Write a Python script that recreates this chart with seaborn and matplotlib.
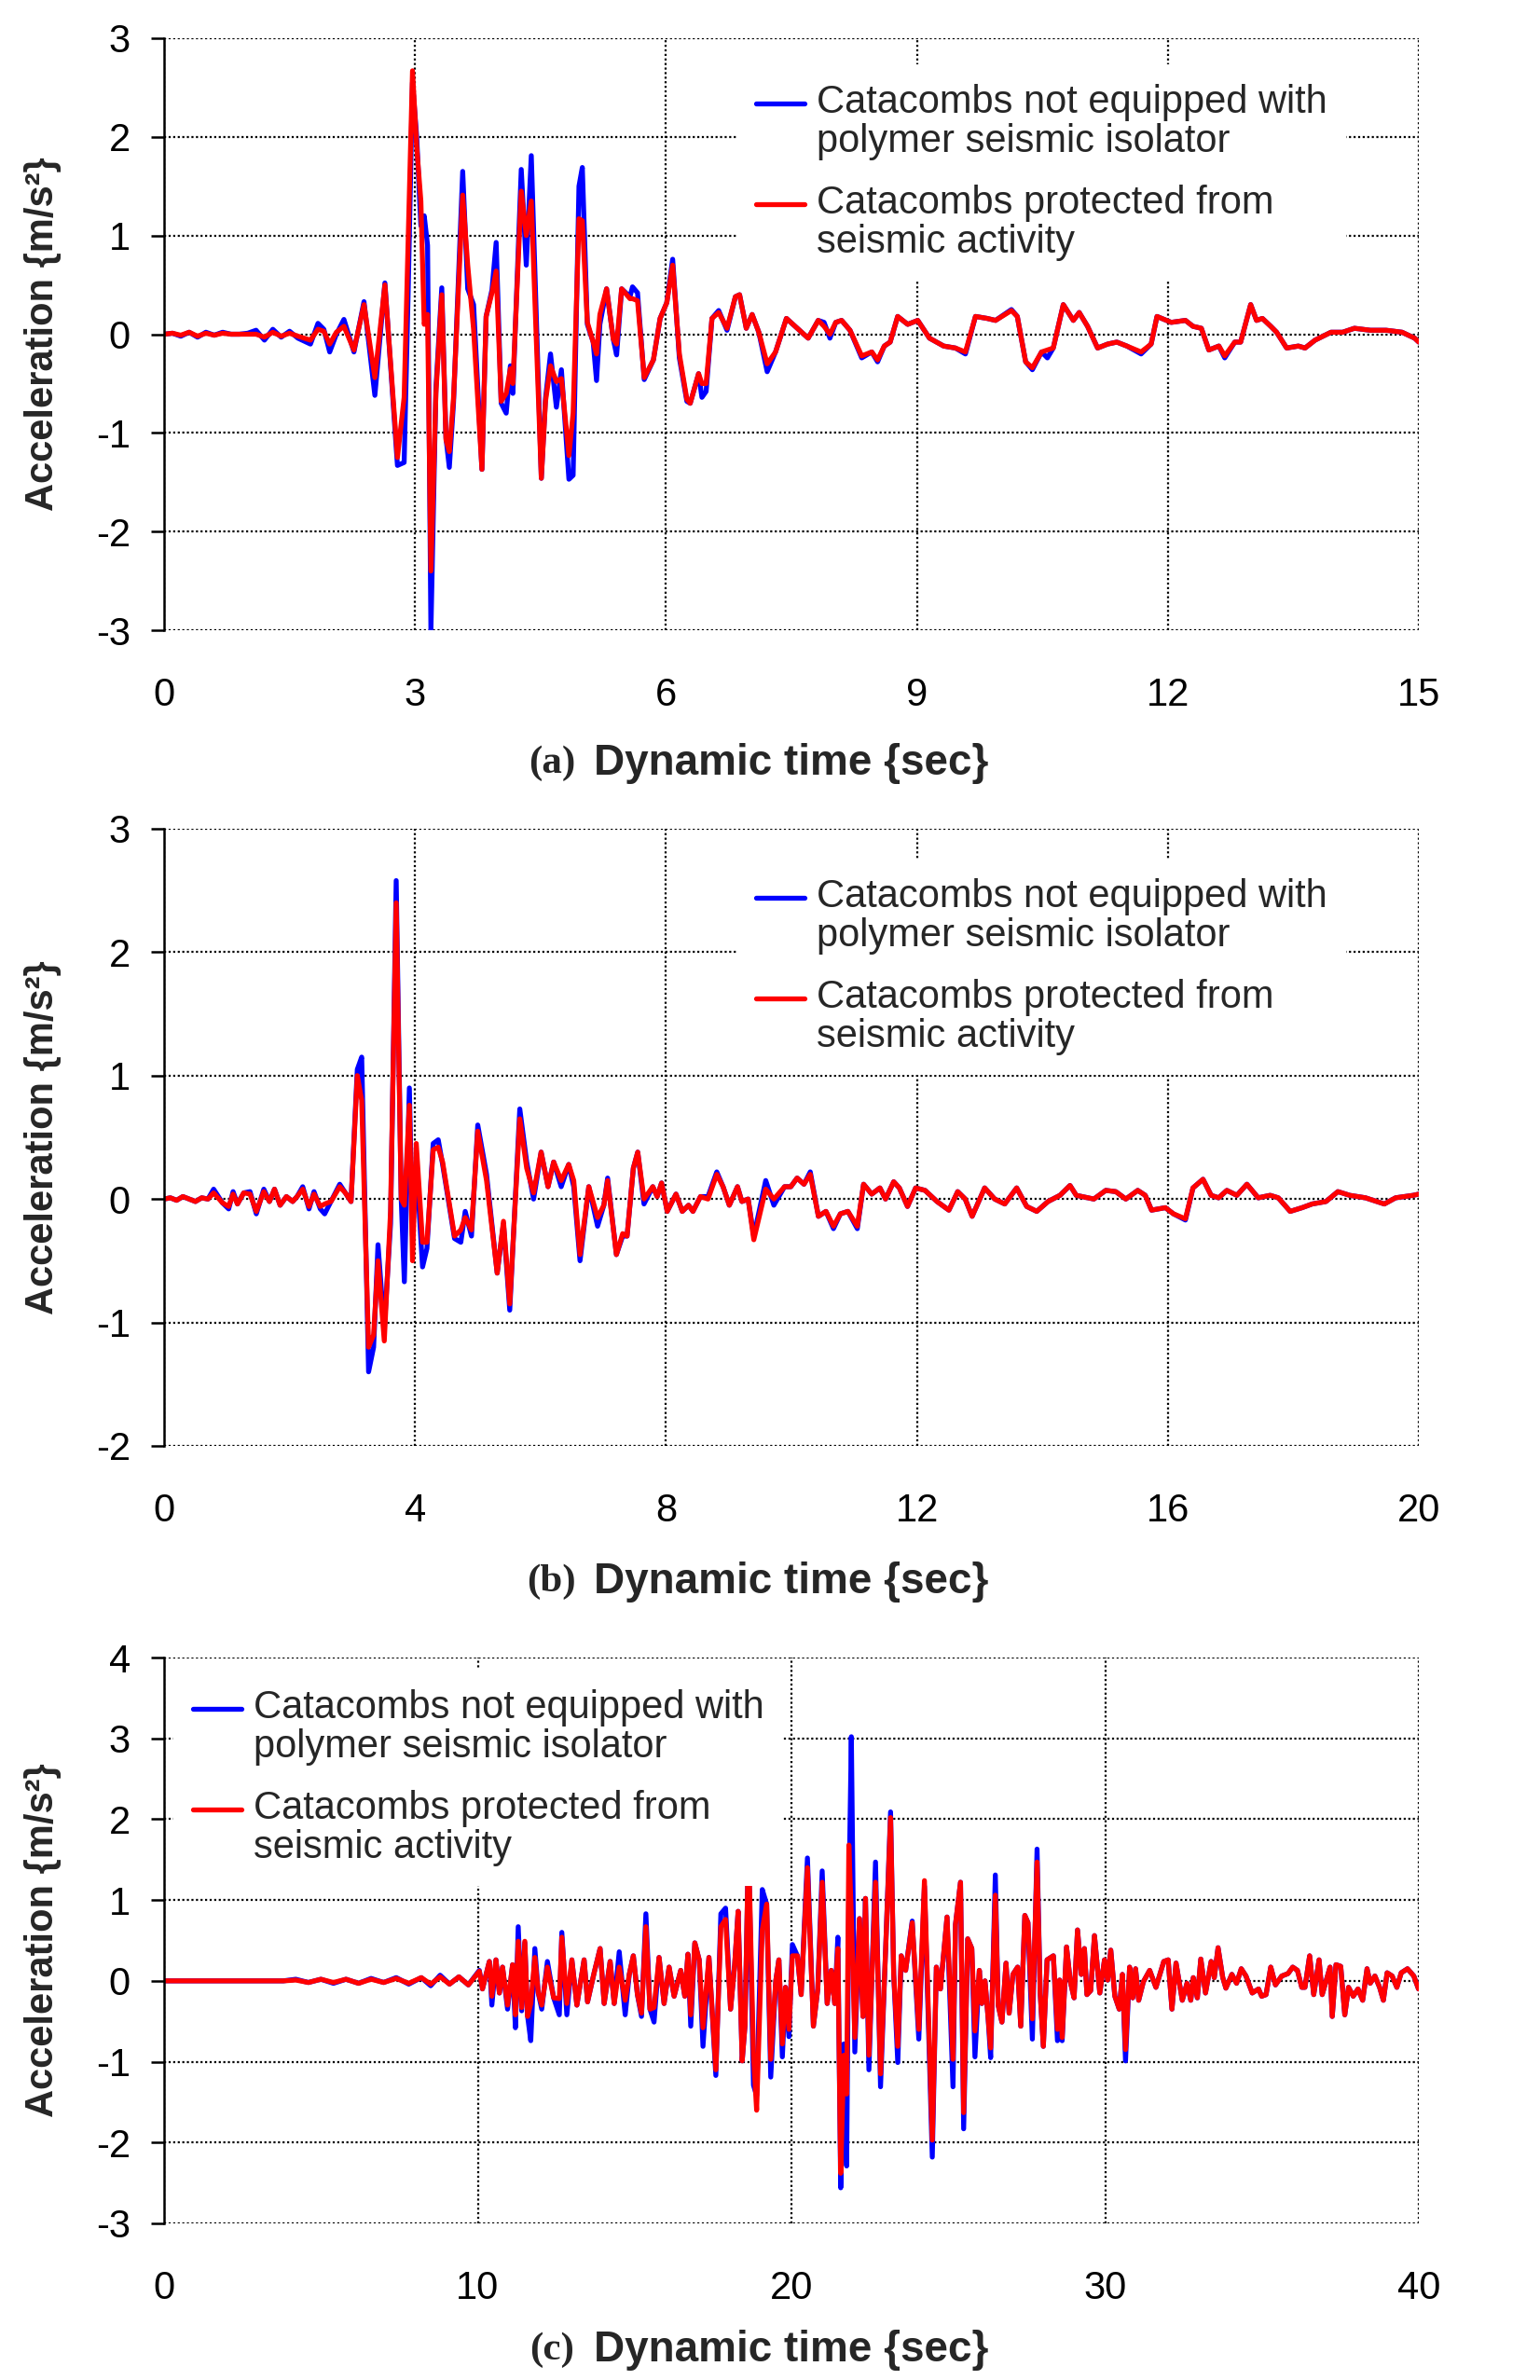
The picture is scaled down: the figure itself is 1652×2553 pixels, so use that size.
import numpy as np
import pandas as pd
import matplotlib
matplotlib.use('Agg')
import matplotlib.pyplot as plt
from matplotlib.lines import Line2D
from matplotlib.legend_handler import HandlerLine2D
import seaborn as sns

# ---------------- data ----------------
label_blue = 'Catacombs not equipped with\npolymer seismic isolator'
label_red = 'Catacombs protected from\nseismic activity'

# panel (a)
t_a = [0, 0.1, 0.2, 0.3, 0.4, 0.5, 0.6, 0.7, 0.8, 0.9, 1.0, 1.1, 1.2, 1.3, 1.4, 1.5, 1.6,
       1.75, 1.84, 1.91, 1.98, 2.06, 2.15, 2.27, 2.39, 2.52, 2.64, 2.79, 2.87, 2.92, 2.97,
       3.02, 3.07, 3.11, 3.15, 3.19, 3.25, 3.32, 3.37, 3.41, 3.46, 3.57, 3.63, 3.70, 3.80,
       3.85, 3.92, 3.97, 4.03, 4.09, 4.14, 4.17, 4.27, 4.33, 4.39, 4.51, 4.56, 4.62, 4.69,
       4.75, 4.84, 4.89, 4.96, 5.00, 5.06, 5.13, 5.17, 5.21, 5.29, 5.37, 5.41, 5.47, 5.57,
       5.60, 5.66, 5.74, 5.85, 5.93, 6.01, 6.08, 6.16, 6.25, 6.29, 6.39, 6.43, 6.48, 6.55,
       6.63, 6.73, 6.83, 6.88, 6.96, 7.03, 7.11, 7.21, 7.31, 7.44, 7.57, 7.70, 7.82, 7.89,
       7.96, 8.03, 8.10, 8.20, 8.34, 8.46, 8.53, 8.61, 8.68, 8.77, 8.89, 9.01, 9.15, 9.32,
       9.46, 9.58, 9.70, 9.84, 9.94, 10.13, 10.20, 10.30, 10.38, 10.49, 10.56, 10.63, 10.75,
       10.87, 10.94, 11.04, 11.16, 11.28, 11.39, 11.51, 11.68, 11.80, 11.87, 12.04, 12.21,
       12.30, 12.40, 12.49, 12.61, 12.68, 12.80, 12.87, 12.99, 13.06, 13.13, 13.23, 13.30,
       13.42, 13.56, 13.64, 13.76, 13.95, 14.09, 14.23, 14.42, 14.61, 14.80, 14.95, 15.0]
blue_a = [0, 0.01, -0.02, 0.02, -0.03, 0.02, -0.01, 0.02, 0, 0, 0.01, 0.04, -0.06, 0.05, -0.03, 0.03, -0.04,
          -0.10, 0.11, 0.05, -0.18, 0.0, 0.15, -0.18, 0.33, -0.62, 0.52, -1.33, -1.30, 0.50, 2.55,
          2.00, 1.10, 1.20, 0.90, -3.00, -0.55, 0.47, -1.05, -1.35, -0.70, 1.65, 0.46, 0.30, -1.37,
          0.18, 0.45, 0.93, -0.70, -0.80, -0.32, -0.60, 1.67, 0.70, 1.81, -1.46, -0.65, -0.20, -0.74,
          -0.36, -1.47, -1.43, 1.50, 1.69, 0.10, -0.08, -0.47, 0.10, 0.46, -0.05, -0.21, 0.46, 0.38,
          0.48, 0.42, -0.46, -0.26, 0.16, 0.32, 0.76, -0.24, -0.68, -0.70, -0.40, -0.64, -0.58, 0.16,
          0.24, 0.04, 0.38, 0.40, 0.06, 0.20, 0.02, -0.38, -0.18, 0.16, 0.06, -0.04, 0.14, 0.12,
          -0.04, 0.12, 0.14, 0.04, -0.24, -0.18, -0.28, -0.12, -0.08, 0.18, 0.10, 0.14, -0.04, -0.12,
          -0.14, -0.20, 0.18, 0.16, 0.14, 0.25, 0.18, -0.28, -0.36, -0.18, -0.24, -0.14, 0.30,
          0.14, 0.22, 0.08, -0.14, -0.10, -0.08, -0.12, -0.20, -0.10, 0.18, 0.12, 0.14,
          0.08, 0.06, -0.16, -0.12, -0.24, -0.08, -0.08, 0.30, 0.14, 0.16, 0.08, 0.02,
          -0.14, -0.12, -0.14, -0.06, 0.02, 0.02, 0.06, 0.04, 0.04, 0.02, -0.04, -0.08]
red_a = [0, 0.01, -0.01, 0.02, -0.02, 0.01, -0.01, 0.01, 0, 0, 0, 0, -0.03, 0.02, -0.02, 0.01, -0.02,
         -0.06, 0.05, 0.03, -0.10, 0.02, 0.08, -0.16, 0.30, -0.44, 0.50, -1.25, -0.64, 1.00, 2.67,
         1.90, 1.35, 0.10, 0.20, -2.40, -0.60, 0.40, -1.07, -1.19, -0.65, 1.41, 0.70, 0.05, -1.37,
         0.18, 0.42, 0.64, -0.68, -0.60, -0.35, -0.50, 1.45, 1.00, 1.35, -1.46, -0.68, -0.32, -0.48,
         -0.45, -1.23, -0.80, 1.17, 1.15, 0.12, -0.08, -0.20, 0.20, 0.46, -0.05, -0.10, 0.46, 0.36,
         0.36, 0.34, -0.44, -0.26, 0.16, 0.32, 0.70, -0.20, -0.66, -0.70, -0.40, -0.50, -0.50, 0.16,
         0.22, 0.06, 0.38, 0.40, 0.06, 0.20, 0.02, -0.30, -0.18, 0.16, 0.06, -0.04, 0.14, 0.08,
         0.0, 0.12, 0.14, 0.04, -0.22, -0.18, -0.26, -0.12, -0.08, 0.18, 0.10, 0.14, -0.04, -0.12,
         -0.14, -0.18, 0.18, 0.16, 0.14, 0.24, 0.18, -0.28, -0.34, -0.18, -0.16, -0.14, 0.30,
         0.14, 0.22, 0.08, -0.14, -0.10, -0.08, -0.12, -0.18, -0.10, 0.18, 0.12, 0.14,
         0.08, 0.06, -0.16, -0.12, -0.22, -0.08, -0.08, 0.30, 0.14, 0.16, 0.08, 0.02,
         -0.14, -0.12, -0.14, -0.06, 0.02, 0.02, 0.06, 0.04, 0.04, 0.02, -0.04, -0.08]

# panel (b)
t_b = [0, 0.1, 0.2, 0.3, 0.4, 0.5, 0.6, 0.7, 0.79, 0.93, 1.03, 1.10, 1.17, 1.27, 1.37, 1.47,
       1.59, 1.68, 1.76, 1.85, 1.95, 2.05, 2.12, 2.21, 2.31, 2.39, 2.49, 2.56, 2.66, 2.80, 2.89,
       2.98, 3.08, 3.15, 3.26, 3.34, 3.41, 3.51, 3.61, 3.70, 3.78, 3.83, 3.91, 3.96, 4.02, 4.12,
       4.19, 4.29, 4.37, 4.44, 4.63, 4.73, 4.80, 4.90, 5.00, 5.14, 5.31, 5.41, 5.51, 5.67, 5.78,
       5.89, 6.01, 6.12, 6.21, 6.33, 6.45, 6.53, 6.63, 6.77, 6.91, 7.01, 7.07, 7.21, 7.31, 7.38,
       7.48, 7.55, 7.65, 7.79, 7.86, 7.93, 8.02, 8.16, 8.26, 8.36, 8.43, 8.55, 8.67, 8.81, 8.91,
       9.01, 9.14, 9.21, 9.31, 9.40, 9.59, 9.72, 9.89, 9.99, 10.09, 10.20, 10.30, 10.43, 10.55,
       10.67, 10.78, 10.90, 11.05, 11.15, 11.28, 11.41, 11.50, 11.63, 11.72, 11.85, 11.98, 12.13,
       12.32, 12.51, 12.65, 12.77, 12.88, 13.08, 13.24, 13.40, 13.59, 13.75, 13.91, 14.09, 14.28,
       14.44, 14.54, 14.73, 14.82, 15.01, 15.17, 15.33, 15.52, 15.64, 15.74, 15.96, 16.09, 16.28,
       16.40, 16.56, 16.69, 16.81, 16.94, 17.10, 17.26, 17.44, 17.63, 17.76, 17.95, 18.14, 18.30,
       18.52, 18.71, 18.90, 19.15, 19.45, 19.63, 19.91, 20.0]
blue_b = [0, 0.01, -0.01, 0.02, 0, -0.02, 0.01, 0, 0.08, -0.03, -0.08, 0.06, -0.04, 0.05, 0.06, -0.12,
          0.08, -0.02, 0.08, -0.05, 0.02, -0.02, 0.02, 0.10, -0.08, 0.06, -0.08, -0.12, -0.02, 0.12, 0.05,
          -0.02, 1.05, 1.15, -1.40, -1.20, -0.37, -1.05, -0.20, 2.58, 0.0, -0.67, 0.90, -0.30, 0.30, -0.55,
          -0.40, 0.45, 0.48, 0.28, -0.32, -0.35, -0.10, -0.30, 0.60, 0.20, -0.60, -0.20, -0.90, 0.73, 0.30,
          0.0, 0.38, 0.10, 0.30, 0.10, 0.28, 0.10, -0.50, 0.10, -0.22, -0.05, 0.17, -0.45, -0.30, -0.30,
          0.25, 0.38, -0.04, 0.10, 0.02, 0.13, -0.10, 0.04, -0.10, -0.05, -0.10, 0.02, 0.02, 0.22, 0.10,
          -0.05, 0.10, -0.02, 0.0, -0.30, 0.15, -0.05, 0.10, 0.10, 0.17, 0.12, 0.22, -0.14, -0.10,
          -0.24, -0.12, -0.10, -0.24, 0.12, 0.04, 0.09, 0.0, 0.14, 0.09, -0.06, 0.09, 0.07,
          -0.02, -0.09, 0.06, 0.0, -0.14, 0.09, 0.0, -0.04, 0.09, -0.06, -0.10, -0.02, 0.03,
          0.11, 0.03, 0.01, 0.0, 0.07, 0.06, 0.0, 0.07, 0.03, -0.09, -0.07, -0.12, -0.17,
          0.09, 0.16, 0.03, 0.01, 0.07, 0.03, 0.12, 0.01, 0.03, 0.01, -0.10, -0.07, -0.04,
          -0.02, 0.06, 0.03, 0.01, -0.04, 0.01, 0.03, 0.04]
red_b = [0, 0.01, -0.01, 0.02, 0, -0.02, 0.01, 0, 0.05, -0.03, -0.06, 0.04, -0.04, 0.05, 0.04, -0.10,
         0.06, -0.02, 0.08, -0.05, 0.02, -0.02, 0.02, 0.08, -0.06, 0.04, -0.06, -0.04, -0.02, 0.10, 0.05,
         -0.02, 1.00, 0.80, -1.20, -1.10, -0.50, -1.15, -0.10, 2.40, 0.0, -0.05, 0.76, -0.50, 0.45, -0.35,
         -0.35, 0.40, 0.42, 0.30, -0.30, -0.25, -0.15, -0.25, 0.55, 0.15, -0.60, -0.18, -0.85, 0.65, 0.25,
         0.05, 0.38, 0.10, 0.30, 0.15, 0.28, 0.15, -0.45, 0.10, -0.15, -0.05, 0.15, -0.45, -0.28, -0.30,
         0.25, 0.38, 0.0, 0.10, 0.02, 0.13, -0.10, 0.04, -0.10, -0.05, -0.10, 0.02, 0.0, 0.20, 0.10,
         -0.05, 0.10, -0.02, 0.0, -0.33, 0.08, 0.0, 0.10, 0.10, 0.17, 0.12, 0.20, -0.14, -0.10,
         -0.22, -0.12, -0.10, -0.22, 0.12, 0.04, 0.09, 0.0, 0.14, 0.09, -0.06, 0.09, 0.07,
         -0.02, -0.09, 0.06, 0.0, -0.14, 0.09, 0.0, -0.04, 0.09, -0.06, -0.10, -0.02, 0.03,
         0.11, 0.03, 0.01, 0.0, 0.07, 0.06, 0.0, 0.07, 0.03, -0.09, -0.07, -0.12, -0.16,
         0.09, 0.16, 0.03, 0.01, 0.07, 0.03, 0.12, 0.01, 0.03, 0.01, -0.10, -0.07, -0.04,
         -0.02, 0.06, 0.03, 0.01, -0.04, 0.01, 0.03, 0.04]

# panel (c)
t_c = [0, 3.8, 4.2, 4.6, 5.0, 5.4, 5.8, 6.2, 6.6, 7.0, 7.4, 7.8, 8.2, 8.5, 8.8, 9.1, 9.4, 9.7,
       10.05, 10.15, 10.37, 10.45, 10.58, 10.69, 10.79, 10.95, 11.11, 11.20, 11.29, 11.40, 11.50,
       11.59, 11.69, 11.82, 11.93, 12.04, 12.22, 12.42, 12.60, 12.68, 12.84, 13.00, 13.16, 13.39,
       13.50, 13.71, 13.90, 14.03, 14.22, 14.35, 14.51, 14.70, 14.83, 14.96, 15.09, 15.22, 15.36,
       15.49, 15.62, 15.78, 15.94, 16.10, 16.26, 16.47, 16.60, 16.70, 16.79, 16.92, 17.06, 17.18,
       17.37, 17.59, 17.75, 17.90, 18.06, 18.19, 18.30, 18.43, 18.52, 18.63, 18.79, 18.89, 19.07,
       19.21, 19.34, 19.50, 19.60, 19.71, 19.81, 19.92, 20.03, 20.19, 20.31, 20.51, 20.70, 20.84,
       20.98, 21.14, 21.27, 21.38, 21.48, 21.57, 21.67, 21.76, 21.83, 21.91, 22.02, 22.17, 22.28,
       22.36, 22.47, 22.68, 22.84, 23.00, 23.16, 23.26, 23.39, 23.50, 23.64, 23.85, 24.06, 24.24,
       24.49, 24.62, 24.75, 24.96, 25.15, 25.23, 25.39, 25.49, 25.62, 25.75, 25.85, 25.99, 26.07,
       26.17, 26.27, 26.35, 26.50, 26.59, 26.71, 26.84, 26.94, 27.06, 27.21, 27.31, 27.44, 27.54,
       27.68, 27.83, 27.93, 28.03, 28.15, 28.35, 28.48, 28.55, 28.63, 28.77, 28.89, 29.01, 29.12,
       29.24, 29.34, 29.42, 29.54, 29.66, 29.83, 29.98, 30.08, 30.18, 30.31, 30.45, 30.55, 30.65,
       30.78, 30.88, 30.97, 31.07, 31.22, 31.42, 31.62, 31.87, 32.01, 32.13, 32.26, 32.46, 32.61,
       32.73, 32.81, 32.94, 33.05, 33.20, 33.38, 33.48, 33.60, 33.75, 33.85, 34.04, 34.19, 34.34,
       34.49, 34.69, 34.89, 34.99, 35.13, 35.28, 35.43, 35.63, 35.83, 35.98, 36.13, 36.27, 36.37,
       36.52, 36.65, 36.82, 36.92, 37.17, 37.24, 37.36, 37.51, 37.64, 37.76, 37.91, 38.06, 38.21,
       38.35, 38.45, 38.60, 38.75, 38.87, 38.99, 39.15, 39.30, 39.44, 39.64, 39.84, 39.99]
blue_c = [0, 0, 0.02, -0.02, 0.02, -0.03, 0.02, -0.03, 0.03, -0.02, 0.04, -0.04, 0.04, -0.06, 0.07, -0.04, 0.05, -0.05,
          0.13, -0.10, 0.24, -0.30, 0.26, -0.15, 0.17, -0.35, 0.20, -0.58, 0.67, -0.37, 0.47,
          -0.44, -0.74, 0.40, -0.15, -0.35, 0.24, -0.21, -0.42, 0.60, -0.42, 0.26, -0.30, 0.26,
          -0.26, 0.10, 0.40, -0.28, 0.24, -0.28, 0.36, -0.42, 0.08, 0.31, -0.17, -0.44, 0.83,
          -0.35, -0.51, 0.29, -0.28, 0.17, -0.19, 0.13, -0.19, 0.33, -0.56, 0.47, 0.26, -0.81,
          0.29, -1.17, 0.83, 0.90, -0.35, 0.20, 0.86, -0.99, -0.55, 1.68, -1.29, -1.42, 1.13,
          0.95, -1.19, 0.0, 0.26, -0.94, -0.08, -0.69, 0.45, 0.31, -0.17, 1.52, -0.56, -0.10,
          1.36, -0.28, 0.13, -0.28, 0.54, -2.56, -0.78, -2.29, 1.00, 3.02, -0.88, 0.77, -0.44,
          1.02, -1.10, 1.47, -1.31, 0.36, 2.09, 0.08, -1.01, 0.31, 0.13, 0.74, -0.72, 1.17,
          -2.18, 0.17, -0.10, 0.79, -1.31, 0.70, 1.22, -1.83, 0.52, 0.40, -0.94, 0.13, -0.28,
          0.0, -0.46, -0.95, 1.31, -0.30, -0.51, 0.22, -0.40, 0.08, 0.17, -0.56, 0.81, 0.72,
          -0.72, 1.63, -0.15, -0.81, 0.26, 0.31, -0.74, 0.01, -0.74, 0.42, -0.01, -0.21, 0.63,
          0.08, 0.40, -0.17, -0.12, 0.56, -0.15, 0.26, 0.01, 0.38, -0.19, -0.35, 0.08, -0.99,
          0.17, -0.21, 0.15, -0.24, -0.01, 0.13, -0.08, 0.24, 0.26, -0.35, 0.22, -0.24, -0.03,
          -0.24, 0.04, -0.21, 0.27, -0.15, 0.24, 0.04, 0.41, 0.04, -0.09, 0.08, -0.03, 0.15,
          0.06, -0.15, -0.10, -0.19, -0.17, 0.17, -0.05, 0.06, 0.09, 0.17, 0.13, -0.08, -0.08,
          0.31, -0.17, 0.26, -0.17, 0.17, -0.44, 0.20, 0.18, -0.42, -0.08, -0.19, -0.10, -0.24,
          0.15, -0.03, 0.06, -0.08, -0.24, 0.10, 0.06, -0.08, 0.10, 0.15, 0.06, -0.10]
red_c = [0, 0, 0.01, -0.02, 0.02, -0.02, 0.02, -0.03, 0.02, -0.02, 0.03, -0.03, 0.04, -0.04, 0.05, -0.04, 0.05, -0.05,
         0.12, -0.10, 0.24, -0.19, 0.26, -0.15, 0.17, -0.30, 0.20, -0.42, 0.49, -0.33, 0.49,
         -0.44, -0.28, 0.29, -0.15, -0.30, 0.17, -0.21, -0.22, 0.54, -0.28, 0.26, -0.30, 0.26,
         -0.26, 0.10, 0.40, -0.28, 0.24, -0.28, 0.17, -0.24, 0.08, 0.31, -0.17, -0.40, 0.67,
         -0.35, -0.33, 0.29, -0.28, 0.17, -0.19, 0.13, -0.19, 0.33, -0.42, 0.47, 0.26, -0.58,
         0.29, -1.10, 0.67, 0.76, -0.35, 0.20, 0.86, -0.99, -0.55, 1.72, -0.92, -1.60, 0.63,
         0.95, -0.97, 0.0, 0.26, -0.78, -0.08, -0.60, 0.31, 0.31, -0.17, 1.40, -0.56, -0.10,
         1.22, -0.28, 0.13, -0.28, 0.40, -2.38, -0.92, -1.40, 1.68, 0.80, -0.70, 0.77, -0.44,
         1.02, -0.92, 1.22, -1.15, 0.36, 2.02, 0.08, -0.81, 0.31, 0.13, 0.72, -0.60, 1.24,
         -1.97, 0.17, -0.10, 0.79, -0.97, 0.70, 1.22, -1.63, 0.52, 0.40, -0.62, 0.13, -0.28,
         0.0, -0.46, -0.83, 1.06, -0.30, -0.51, 0.22, -0.40, 0.08, 0.17, -0.56, 0.81, 0.72,
         -0.47, 1.47, -0.15, -0.81, 0.26, 0.31, -0.60, 0.01, -0.70, 0.42, -0.01, -0.21, 0.63,
         0.08, 0.40, -0.17, -0.12, 0.56, -0.15, 0.26, 0.01, 0.38, -0.19, -0.35, 0.08, -0.85,
         0.17, -0.21, 0.15, -0.24, -0.01, 0.13, -0.08, 0.24, 0.26, -0.35, 0.22, -0.24, -0.03,
         -0.24, 0.04, -0.21, 0.27, -0.15, 0.24, 0.04, 0.41, 0.04, -0.09, 0.08, -0.03, 0.15,
         0.06, -0.15, -0.10, -0.19, -0.17, 0.17, -0.05, 0.06, 0.09, 0.17, 0.13, -0.08, -0.08,
         0.31, -0.17, 0.26, -0.17, 0.17, -0.44, 0.20, 0.18, -0.42, -0.08, -0.19, -0.10, -0.24,
         0.15, -0.03, 0.06, -0.08, -0.24, 0.10, 0.06, -0.08, 0.10, 0.15, 0.06, -0.10]

W, H = 1652, 2553
BLUE, RED = '#0000FF', '#FF0000'


class UpperLineHandler(HandlerLine2D):
  # legend handle sits level with the first text line
  def create_artists(self, legend, orig_handle, xdescent, ydescent,
                     width, height, fontsize, trans):
    arts = super().create_artists(legend, orig_handle, xdescent, ydescent,
                                  width, height, fontsize, trans)
    for a in arts:
      a.set_ydata(np.asarray(a.get_ydata()) + 0.5 * fontsize)
    return arts


def draw_panel(fig, box, t, blue, red, ylim, xmax, xstep, letter, leg_anchor, lab_px):
  left, right, top, bottom = box
  ax = fig.add_axes([left / W, 1 - bottom / H, (right - left) / W, (bottom - top) / H])
  n = len(t)
  df = pd.DataFrame({'t': list(t) * 2, 'acc': list(blue) + list(red),
                     'series': ['blue'] * n + ['red'] * n})
  sns.lineplot(data=df, x='t', y='acc', hue='series', palette=[BLUE, RED],
               estimator=None, sort=False, lw=3.8, legend=False, ax=ax)

  ax.set_xlim(0, xmax)
  ax.set_ylim(*ylim)
  ax.set_xticks(np.arange(0, xmax + 0.1, xstep))
  ax.set_yticks(np.arange(ylim[0], ylim[1] + 0.1, 1))
  ax.grid(True, color='black', linestyle=(0, (1, 1.2)), linewidth=1.6)
  for s in ['top', 'right', 'bottom']:
    ax.spines[s].set_visible(False)
  ax.spines['left'].set_color('black')
  ax.spines['left'].set_linewidth(1.8)
  ax.tick_params(axis='y', left=True, direction='out', length=10, width=1.8,
                 pad=16, labelsize=30, colors='black')
  ax.tick_params(axis='x', bottom=False, length=0, pad=36, labelsize=30, colors='black')

  lab_y = -(lab_px / (bottom - top))
  ax.set_xlabel('Dynamic time {sec}', fontsize=33, fontweight='bold', va='center')
  ax.xaxis.set_label_coords(0.5, lab_y)
  ax.text(0.309, lab_y, letter, transform=ax.transAxes, family=['Liberation Serif'],
          fontweight='bold', fontsize=31, ha='center', va='center')
  ax.set_ylabel('Acceleration {m/s²}', fontsize=30, fontweight='bold', va='center')
  ax.yaxis.set_label_coords(-0.0966, 0.5)

  handles = ax.lines[:2]
  leg = ax.legend(handles, [label_blue, label_red], loc='upper left',
                  bbox_to_anchor=leg_anchor, borderaxespad=0, borderpad=0.5,
                  fontsize=30, handlelength=1.25, handletextpad=0.31,
                  labelspacing=0.62, frameon=True, fancybox=False, framealpha=1,
                  facecolor='white', edgecolor='none',
                  handler_map={Line2D: UpperLineHandler()})
  for tx in leg.get_texts():
    tx.set_linespacing(1.07)
  return ax


sns.set_style('white')
plt.rcParams['font.family'] = ['Liberation Sans', 'DejaVu Sans']
plt.rcParams['axes.unicode_minus'] = False

fig = plt.figure(figsize=(W / 100, H / 100), dpi=100)
draw_panel(fig, (176, 1522, 41, 676), t_a, blue_a, red_a, (-3, 3), 15, 3, '(a)', (0.456, 0.956), 143)
draw_panel(fig, (176, 1522, 889, 1551), t_b, blue_b, red_b, (-2, 3), 20, 4, '(b)', (0.456, 0.951), 146)
draw_panel(fig, (176, 1522, 1778, 2385), t_c, blue_c, red_c, (-3, 4), 40, 10, '(c)', (0.0074, 0.979), 136)

fig.savefig('out.png', dpi=100, facecolor='white')
